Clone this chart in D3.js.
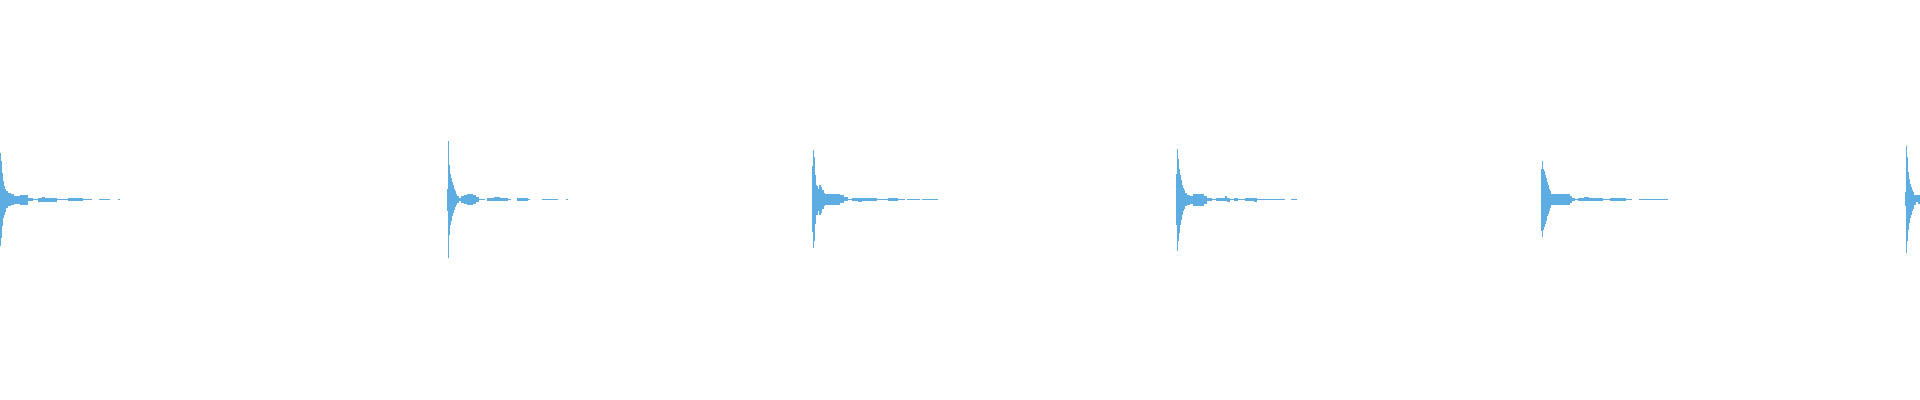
<!DOCTYPE html>
<html>
<head>
<meta charset="utf-8">
<script src="https://cdn.jsdelivr.net/npm/d3@7"></script>
<style>
    html, body { margin: 0; padding: 0; background: #ffffff; overflow: hidden; }
</style>
</head>
<body>
<svg id="svg" width="1920" height="400"></svg>
<script>
//Globals
const SVG_WIDTH = 1920;
const SVG_HEIGHT = 400;
const WAVE_COLOR = "#5dade2";

//Clip length and peak bin size (seconds)
const DURATION = 8;
const BIN = 1 / 240;

//Click onsets (seconds)
const CLICK_TIMES = [0, 1.8625, 3.3833, 4.9, 6.4208, 7.9375];

//Attack peaks, one value per bin after onset (% of full scale)
const HEAD_TOP = [
    [23.3, 19.5, 13.5, 9.5, 7, 5.5, 4.5, 4.5, 3.5, 3.5, 3.5],
    [5.5, 29.2, 17.5, 13, 11, 9, 7.3, 5.5, 4.3, 3, 2, 2, 1, 1],
    [17, 24.8, 21.5, 12.5, 7.5, 7, 5.5, 7.5, 7.5, 6.5, 4.8, 4.8, 3.5],
    [13, 25.3, 20.3, 15.5, 12.5, 9.8, 7.5, 6, 4.8, 3.5, 3.5, 2.3, 2.3, 2.3],
    [15.5, 19.3, 15.3, 14.3, 12.5, 11, 9, 7.3, 5.5, 4.3, 3, 3],
    [4, 26.8, 21.5, 14, 10.5, 8, 6.5, 4.8, 4, 2.3, 2.3, 2.5, 2.5, 2.5, 2.5]
];
const HEAD_BOTTOM = [
    [23.3, 19.5, 13.5, 9.5, 8, 6.5, 4.5, 4.5, 3.5, 3.5, 3.5],
    [6, 29.2, 17.8, 12.8, 10.8, 8.5, 7, 5.3, 4, 3, 2, 2, 1, 1],
    [16.5, 24.5, 21, 12.5, 7.8, 8, 6, 8, 8, 7, 5, 5, 3.5],
    [13, 25.8, 20.8, 17, 12.8, 10.3, 7.8, 6, 4.8, 3.5, 3.5, 2.8, 2.8, 2.8],
    [16, 19, 15.3, 14, 12.5, 10.8, 8.5, 7.3, 5.8, 4.5, 3, 3],
    [3.5, 27, 21, 15.3, 12, 9.5, 7.8, 6, 5, 2.8, 2.8, 1.5, 1.5, 2.5, 2.5]
];

//Ring-out: [from bin, to bin, top %, bottom %]
const TAILS = [
    [[11, 14, 3, 3], [14, 20, 2, 2.5], [20, 28, 2.5, 3], [28, 33, 1, 1], [33, 38, 0.3, 0.3],
     [38, 42, 0.9, 1.2], [42, 45, 1.4, 1.2], [45, 57, 0.9, 1.2], [57, 68, 0.3, 0.3],
     [68, 83, 0.8, 0.8], [83, 92, 0.3, 0.3], [99, 110, 0.3, 0.3], [118, 120, 0.3, 0.3]],
    [[14, 17, 1.8, 1.8], [17, 20, 2.5, 2.5], [20, 26, 2.8, 2.8], [26, 29, 2.2, 2.2], [29, 32, 1.2, 1.2],
     [32, 38, 0.3, 0.3], [40, 47, 1, 1], [47, 53, 1.5, 1], [53, 61, 1, 1], [61, 64, 0.3, 0.3],
     [70, 77, 0.8, 0.8], [77, 81, 1, 0.8], [81, 83, 0.3, 0.3], [95, 111, 0.3, 0.3], [119, 121, 0.3, 0.3]],
    [[13, 20, 2.8, 2.8], [20, 28, 3, 2.8], [28, 32, 2.2, 2], [32, 36, 1.2, 1], [36, 40, 0.3, 0.3],
     [40, 46, 1, 1], [46, 50, 1, 1.5], [50, 65, 1, 1], [65, 76, 0.3, 0.3], [76, 86, 0.8, 0.8],
     [86, 93, 0.3, 0.3], [95, 108, 0.3, 0.3], [110, 126, 0.3, 0.3]],
    [[14, 17, 2, 2.3], [17, 28, 2.8, 3.3], [28, 31, 2, 2.3], [31, 36, 1, 1], [36, 40, 0.3, 0.3],
     [40, 49, 1, 1], [49, 51, 2, 1], [51, 54, 1, 1.5], [54, 58, 0.3, 0.3], [58, 62, 1, 1],
     [62, 69, 0.3, 0.3], [69, 78, 1, 1], [78, 81, 1, 1.5], [81, 109, 0.3, 0.3], [115, 121, 0.3, 0.3]],
    [[12, 29, 2.8, 2.8], [29, 31, 1.8, 1.8], [31, 34, 1, 1], [34, 37, 0.3, 0.3], [37, 43, 1, 1],
     [43, 48, 1.5, 1], [48, 62, 1, 1], [62, 69, 0.3, 0.3], [69, 85, 1, 1], [85, 91, 0.3, 0.3],
     [98, 127, 0.3, 0.3]],
    []
];

//Wait for Page Load
window.addEventListener("load", main);

function main()
{
    let columns = buildColumns();
    drawWave(columns);
}

//Turn the peaks into one min/max column per bin
function buildColumns()
{
    let columns = [];
    CLICK_TIMES.forEach(function(onset, b) {
        let start = Math.round(onset / BIN);
        HEAD_TOP[b].forEach(function(top, i) {
            columns.push({ bin: start + i, top: top, bottom: HEAD_BOTTOM[b][i] });
        });
        TAILS[b].forEach(function(seg) {
            for (let k = seg[0]; k < seg[1]; k++)
                columns.push({ bin: start + k, top: seg[2], bottom: seg[3] });
        });
    });
    return columns;
}

function drawWave(columns)
{
    let svg = d3.select("#svg");

    //Setup x Scale and y Scale
    let x_scale = d3.scaleLinear().domain([0, DURATION]).range([0, SVG_WIDTH]);
    let y_scale = d3.scaleLinear().domain([-100, 100]).range([SVG_HEIGHT - 1, 0]);
    let bin_width = x_scale(BIN) - x_scale(0);

    //Draw Columns
    svg.append("g")
        .attr("shape-rendering", "crispEdges")
        .selectAll("rect")
        .data(columns)
        .enter().append("rect")
        .attr("x", function(c) { return x_scale(c.bin * BIN); })
        .attr("width", bin_width)
        .attr("y", function(c) { return y_scale(c.top); })
        .attr("height", function(c) { return Math.max(1, y_scale(-c.bottom) - y_scale(c.top)); })
        .attr("fill", WAVE_COLOR);
}
</script>
</body>
</html>
